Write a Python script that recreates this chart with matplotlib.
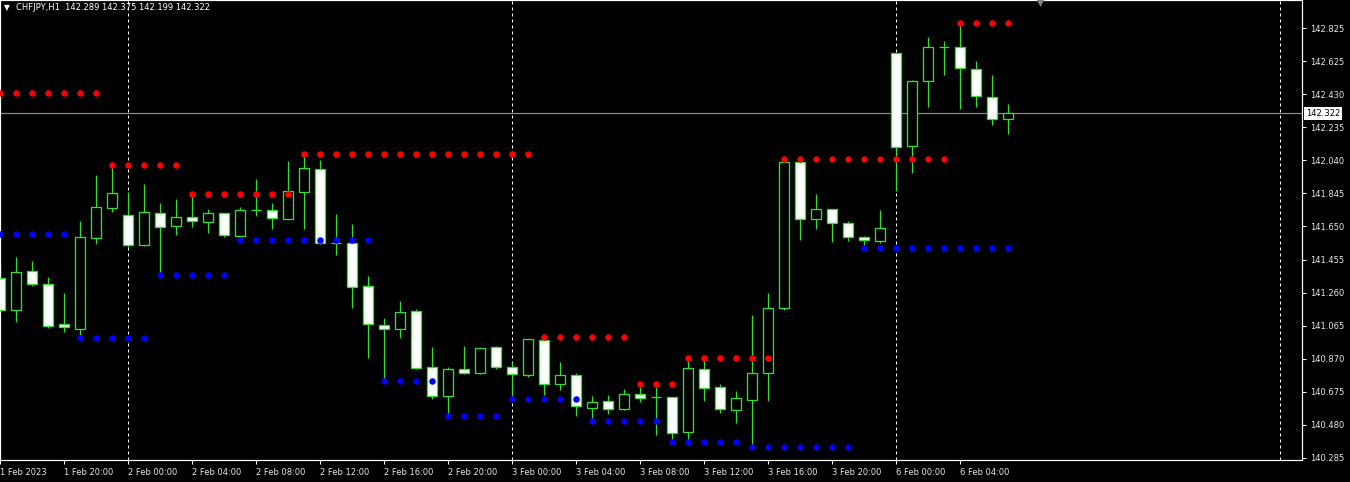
import matplotlib
matplotlib.use("Agg")
import matplotlib.pyplot as plt
from matplotlib.patches import Rectangle
from matplotlib.transforms import blended_transform_factory

# ---------------- data ----------------
symbol = "CHFJPY,H1"
opens = [141.346, 141.157, 141.388, 141.311, 141.074, 141.048, 141.586, 141.764, 141.719, 141.545,
         141.734, 141.657, 141.707, 141.681, 141.730, 141.598, 141.748, 141.748, 141.698, 141.858,
         141.991, 141.553, 141.553, 141.299, 141.068, 141.048, 141.151, 140.819, 140.651, 140.808,
         140.784, 140.938, 140.823, 140.776, 140.979, 140.723, 140.772, 140.581, 140.618, 140.575,
         140.660, 140.642, 140.642, 140.439, 140.808, 140.701, 140.569, 140.628, 140.784, 141.169,
         142.032, 141.695, 141.754, 141.671, 141.588, 141.568, 142.677, 142.131, 142.511, 142.712,
         142.716, 142.586, 142.420, 142.289]
highs = [141.438, 141.472, 141.449, 141.354, 141.259, 141.685, 141.957, 142.010, 141.857, 141.904,
         141.792, 141.815, 141.847, 141.754, 141.734, 141.768, 141.933, 141.790, 142.038, 142.083,
         142.046, 141.726, 141.667, 141.360, 141.111, 141.212, 141.164, 140.940, 140.819, 140.945,
         140.934, 140.945, 140.853, 140.987, 141.000, 140.851, 140.784, 140.650, 140.654, 140.690,
         140.723, 140.720, 140.645, 140.876, 140.863, 140.721, 140.681, 141.129, 141.259, 142.052,
         142.046, 141.845, 141.757, 141.685, 141.596, 141.750, 142.680, 142.519, 142.772, 142.750,
         142.858, 142.631, 142.548, 142.375]
lows = [141.147, 141.090, 141.302, 141.054, 141.030, 141.010, 141.551, 141.740, 141.525, 141.537,
        141.367, 141.602, 141.651, 141.616, 141.588, 141.590, 141.714, 141.636, 141.695, 141.636,
        141.550, 141.484, 141.172, 140.876, 140.740, 140.995, 140.811, 140.634, 140.535, 140.782,
        140.782, 140.809, 140.634, 140.760, 140.656, 140.685, 140.531, 140.502, 140.543, 140.567,
        140.616, 140.419, 140.385, 140.385, 140.622, 140.547, 140.492, 140.350, 140.622, 141.160,
        141.572, 141.637, 141.559, 141.568, 141.527, 141.553, 141.862, 141.967, 142.361, 142.550,
        142.349, 142.361, 142.253, 142.199]
closes = [141.159, 141.382, 141.311, 141.066, 141.056, 141.588, 141.766, 141.849, 141.545, 141.736,
          141.651, 141.707, 141.683, 141.730, 141.600, 141.748, 141.748, 141.701, 141.861, 141.997,
          141.553, 141.553, 141.296, 141.074, 141.048, 141.145, 140.817, 140.651, 140.808, 140.784,
          140.932, 140.823, 140.778, 140.985, 140.719, 140.774, 140.589, 140.613, 140.575, 140.660,
          140.640, 140.642, 140.433, 140.813, 140.699, 140.571, 140.636, 140.784, 141.169, 142.032,
          141.695, 141.754, 141.671, 141.592, 141.571, 141.642, 142.121, 142.513, 142.712, 142.716,
          142.588, 142.423, 142.289, 142.322]

# resistance (red) / support (blue) dot segments: start bar, end bar, level
red_start = [0, 7, 12, 19, 34, 40, 43, 49, 60]
red_end = [6, 11, 18, 33, 39, 42, 48, 59, 63]
red_level = [142.444, 142.016, 141.847, 142.083, 141.000, 140.723, 140.876, 142.052, 142.858]
blue_start = [0, 5, 10, 15, 24, 28, 32, 37, 42, 47, 54]
blue_end = [4, 9, 14, 23, 27, 31, 36, 41, 46, 53, 63]
blue_level = [141.610, 140.995, 141.367, 141.573, 140.740, 140.533, 140.634, 140.502, 140.379, 140.350, 141.527]

# axis labels
price_labels = ["142.825", "142.625", "142.430", "142.235", "142.040", "141.845", "141.650",
                "141.455", "141.260", "141.065", "140.870", "140.675", "140.480", "140.285"]
time_labels = ["1 Feb 2023", "1 Feb 20:00", "2 Feb 00:00", "2 Feb 04:00", "2 Feb 08:00",
               "2 Feb 12:00", "2 Feb 16:00", "2 Feb 20:00", "3 Feb 00:00", "3 Feb 04:00",
               "3 Feb 08:00", "3 Feb 12:00", "3 Feb 16:00", "3 Feb 20:00", "6 Feb 00:00",
               "6 Feb 04:00"]
time_label_bars = [0, 4, 8, 12, 16, 20, 24, 28, 32, 36, 40, 44, 48, 52, 56, 60]
day_separator_bars = [8, 32, 56, 80]

# ---------------- style ----------------
W, H = 1350, 482
DPI = 100
BG = "black"
CANDLE = "#33e033"
FONT = "DejaVu Sans"
FS = 6.0
px = 72.0 / DPI

fig = plt.figure(figsize=(W / DPI, H / DPI), dpi=DPI, facecolor=BG)
ax_left, ax_right, ax_top, ax_bottom = 0, 1302, 0, 460
ax = fig.add_axes([ax_left / W, 1 - ax_bottom / H, (ax_right - ax_left) / W, (ax_bottom - ax_top) / H])
ax.set_facecolor(BG)

bar_px = 16.0
ax.set_xlim(-0.02, (ax_right - ax_left) / bar_px - 0.02)
p_top = 142.9924
p_per_px = 2.54 / (457.7 - 28.3)
ax.set_ylim(p_top - ax_bottom * p_per_px, p_top)

# day separators
for b in day_separator_bars:
    ax.axvline(b, color="white", lw=1 * px, linestyle=(0, (3, 3)), zorder=1)

# bid line
ax.axhline(closes[-1], color="#8c8c8c", lw=1.0 * px * 1.2, zorder=1.5)

# candles
bw = 0.62
for i, (o, h, l, c) in enumerate(zip(opens, highs, lows, closes)):
    ax.plot([i, i], [l, h], color=CANDLE, lw=1.3 * px, zorder=2, solid_capstyle="butt")
    bottom = min(o, c)
    height = abs(c - o)
    face = "white" if c < o else "black"
    ax.add_patch(Rectangle((i - bw / 2, bottom), bw, height, facecolor=face,
                           edgecolor=CANDLE, lw=1.3 * px, zorder=3))

# dots
for s, e, lv in zip(red_start, red_end, red_level):
    xs = list(range(s, e + 1))
    ax.scatter(xs, [lv] * len(xs), s=22, color="#ff0000", zorder=5, linewidths=0)
for s, e, lv in zip(blue_start, blue_end, blue_level):
    xs = list(range(s, e + 1))
    ax.scatter(xs, [lv] * len(xs), s=22, color="#0000ff", zorder=5, linewidths=0)

# spines
for sp in ax.spines.values():
    sp.set_color("white")
    sp.set_linewidth(1 * px * 1.2)

# y ticks on right
n = len(price_labels)
step = (float(price_labels[0]) - float(price_labels[-1])) / (n - 1)
yt = [float(price_labels[0]) - k * step for k in range(n)]
ax.yaxis.tick_right()
ax.set_yticks(yt)
ax.set_yticklabels(price_labels)
ax.tick_params(axis="y", colors="white", direction="out", length=3, width=0.8, pad=3,
               labelsize=FS, labelcolor="#e8e8e8")

# x ticks
ax.set_xticks(time_label_bars)
ax.set_xticklabels(time_labels)
ax.tick_params(axis="x", colors="white", direction="out", length=3, width=0.8, pad=2.5,
               labelsize=FS, labelcolor="#e8e8e8")
for lab in ax.get_xticklabels():
    lab.set_ha("left")
for lab in ax.get_xticklabels() + ax.get_yticklabels():
    lab.set_family(FONT)

# bid label box
tr = blended_transform_factory(ax.transAxes, ax.transData)
ax.text(1.003, closes[-1], f"{closes[-1]:.3f}", transform=tr, ha="left", va="center",
        fontsize=FS, color="black", family=FONT,
        bbox=dict(boxstyle="square,pad=0.2", fc="white", ec="none"), zorder=10, clip_on=False)

# header
fig.text(4 / W, 1 - 8 / H, "▼", color="white", fontsize=5.5, va="center", ha="left", family=FONT)
fig.text(16 / W, 1 - 8 / H,
         f"{symbol}  {opens[-1]:.3f} {highs[-1]:.3f} {lows[-1]:.3f} {closes[-1]:.3f}",
         color="white", fontsize=FS, va="center", ha="left", family=FONT)

# chart shift marker
ax.scatter([1040 / bar_px], [p_top - 2 * p_per_px], marker="v", s=45, color="#808080",
           zorder=6, clip_on=False, linewidths=0)

fig.savefig("out.png", dpi=DPI, facecolor=BG)
